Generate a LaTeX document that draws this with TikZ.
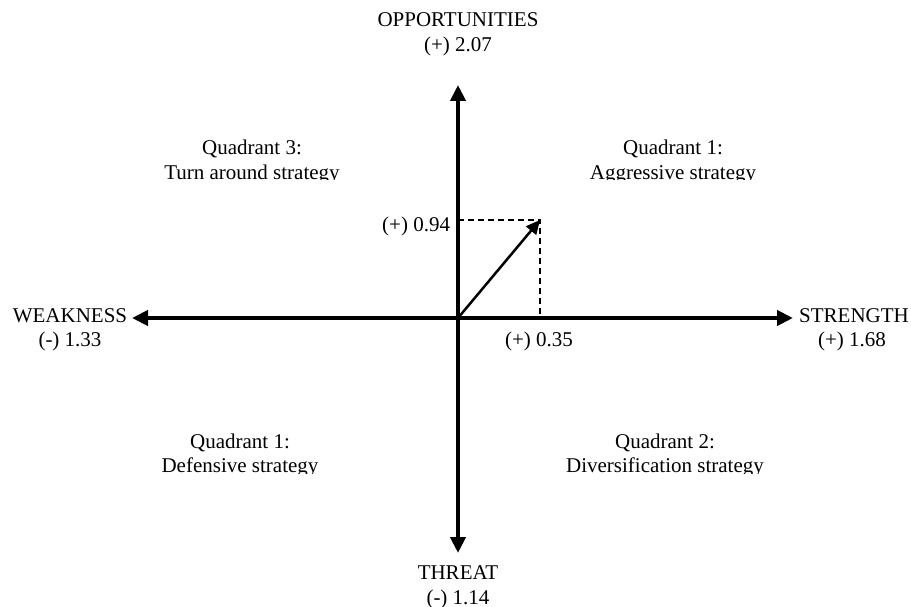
\documentclass[tikz,border=0pt]{standalone}
\usepackage{fontspec}
\setmainfont{Liberation Serif}
\usetikzlibrary{arrows.meta}
\begin{document}
\begin{tikzpicture}[x=1pt,y=-1pt,
  txt/.style={inner sep=0pt,outer sep=0pt,anchor=base,font=\fontsize{21}{25}\selectfont},
  axis/.style={line width=4pt,{Triangle[length=16pt,width=15pt]}-{Triangle[length=16pt,width=15pt]}},
  vec/.style={line width=2.5pt,-{Triangle[length=14pt,width=13pt]}},
  guide/.style={line width=2pt,dash pattern=on 6pt off 4pt}]
\useasboundingbox (0,0) rectangle (911,607);
% coordinates
\coordinate (O) at (458,318);
\coordinate (N) at (458,85);
\coordinate (Sd) at (458,553);
\coordinate (W) at (132,318);
\coordinate (E) at (793,318);
\coordinate (P) at (540,220);
\coordinate (Py) at (458,220);
\coordinate (Px) at (540,318);
% axes
\draw[axis] (W) -- (E);
\draw[axis] (Sd) -- (N);
% guides and vector
\draw[guide] (Py) -- (P) -- (Px);
\draw[vec] (O) -- (P);
% axis labels
\node[txt] (opp) at (458,27) {OPPORTUNITIES};
\node[txt] (oppv) at (458,52) {(+) 2.07};
\node[txt] (weak) at (70,322) {WEAKNESS};
\node[txt] (weakv) at (70,346) {(-) 1.33};
\node[txt] (str) at (854,322) {STRENGTH};
\node[txt] (strv) at (852,346) {(+) 1.68};
\node[txt] (thr) at (458,579) {THREAT};
\node[txt] (thrv) at (458,604) {(-) 1.14};
% value labels
\node[txt,anchor=base east] (vy) at (450,231) {(+) 0.94};
\node[txt] (vx) at (539,346) {(+) 0.35};
% quadrant labels
\node[txt] (q3a) at (252,155) {Quadrant 3:};
\begin{scope}\clip (100,150) rectangle (400,180);
\node[txt] (q3b) at (252,179) {Turn around strategy};
\end{scope}
\node[txt] (q1a) at (673,155) {Quadrant 1:};
\begin{scope}\clip (520,150) rectangle (820,180);
\node[txt] (q1b) at (673,179) {Aggressive strategy};
\end{scope}
\node[txt] (q4a) at (240,448) {Quadrant 1:};
\begin{scope}\clip (100,450) rectangle (400,473);
\node[txt] (q4b) at (240,472) {Defensive strategy};
\end{scope}
\node[txt] (q2a) at (665,448) {Quadrant 2:};
\begin{scope}\clip (520,450) rectangle (820,473);
\node[txt] (q2b) at (665,472) {Diversification strategy};
\end{scope}
\end{tikzpicture}
\end{document}
